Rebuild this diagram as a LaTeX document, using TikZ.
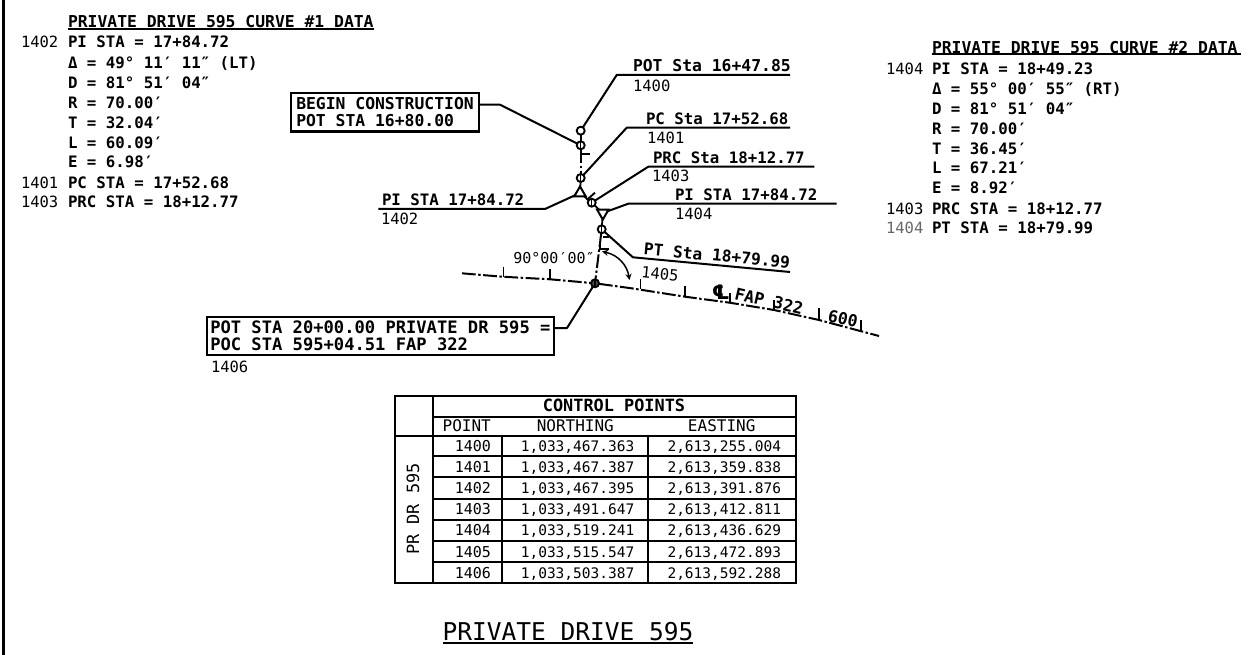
\documentclass[tikz,border=0pt]{standalone}
\usepackage{fontspec}
\setmainfont{DejaVu Sans Mono}
\newfontfamily\clfont{DejaVu Sans}
\usetikzlibrary{shapes.geometric}
\newcommand{\cadsize}[1]{\fontsize{#1pt}{13.6pt}\selectfont}
\tikzset{
  txt/.style={anchor=west, text height=9.2pt, text depth=0pt, font=\cadsize{12.4}},
  txtb/.style={txt, font=\cadsize{12.6}\bfseries},
  cell/.style={anchor=east, text height=8.6pt, text depth=0pt, font=\cadsize{11.6}},
  head/.style={anchor=center, text height=9.2pt, text depth=0pt, font=\cadsize{12.8}},
  callout/.style={draw, line width=1.8pt, anchor=north west, align=left, text depth=0pt, inner xsep=2.6pt, inner ysep=2.4pt},
  leader/.style={line width=1.6pt, line join=round},
  grid/.style={line width=1.3pt},
  pointmark/.style={circle, draw, line width=1.5pt, minimum size=6.4pt},
  pimark/.style={regular polygon, regular polygon sides=3, draw, line width=1.6pt, minimum size=10.5pt},
  centerline/.style={line width=1.6pt, dash pattern=on 11pt off 2pt on 2pt off 2pt},
  tick/.style={line width=1.5pt}
}
\begin{document}
\begin{tikzpicture}[y=0.80pt, x=0.80pt, yscale=-1.000000, xscale=1.000000, inner sep=0pt, outer sep=0pt]
  \useasboundingbox (0,0) rectangle (1258,655);
  % sheet edge
  \draw[line width=2.4pt] (3.5,0) -- (3.5,655);

  % curve 1 data
  \node[txtb, font=\cadsize{13.1}\bfseries] (headone) at (68,22.2) {PRIVATE DRIVE 595 CURVE \#1 DATA};
  \draw[line width=1.6pt] (68,29) -- (374,29);
  \foreach \rowy/\rowid/\rowtext [count=\rowi] in {42.2/1402/PI STA = 17+84.72, 62.5//Δ = 49° 11′ 11″ (LT), 82.5//D = 81° 51′ 04″, 102.5//R = 70.00′, 122.5//T = 32.04′, 142.5//L = 60.09′, 161.5//E = 6.98′, 182.5/1401/PC STA = 17+52.68, 201.5/1403/PRC STA = 18+12.77}
    {
    \node[txtb] (onetext\rowi) at (68,\rowy) {\rowtext};
    \node[txt] (oneid\rowi) at (21,\rowy) {\rowid};
    }

  % curve 2 data
  \node[txtb, font=\cadsize{13.1}\bfseries] (headtwo) at (932,47.8) {PRIVATE DRIVE 595 CURVE \#2 DATA};
  \draw[line width=1.6pt] (932,54.3) -- (1241,54.3);
  \foreach \rowy/\rowid/\rowtext [count=\rowi] in {68.8/1404/PI STA = 18+49.23, 88.8//Δ = 55° 00′ 55″ (RT), 108.5//D = 81° 51′ 04″, 128.5//R = 70.00′, 148.5//T = 36.45′, 168.2//L = 67.21′, 187.5//E = 8.92′, 208.5/1403/PRC STA = 18+12.77}
    {
    \node[txtb] (twotext\rowi) at (932,\rowy) {\rowtext};
    \node[txt] (twoid\rowi) at (886,\rowy) {\rowid};
    }
  \node[txtb] (twotextlast) at (932,227.5) {PT STA = 18+79.99};
  \node[txt, text=black!60] (twoidlast) at (886,227.5) {1404};

  % alignment marks
  \node[pointmark] (pot) at (580.7,130.7) {};
  \node[pointmark] (begin) at (580.7,145.3) {};
  \node[pointmark] (pc) at (580.7,178) {};
  \node[pimark] (pione) at (580,193) {};
  \node[pointmark] (prc) at (591.7,202.7) {};
  \node[pimark, shape border rotate=180] (pitwo) at (602.8,213) {};
  \node[pointmark] (pt) at (601.7,229.3) {};
  \node[pointmark, fill=black!70] (poc) at (595,283.3) {};
  \foreach \markname in {begin,pc,prc,pt,poc}
    \draw[line width=1pt] (\markname.north) -- (\markname.south);

  % alignment
  \draw[centerline] (pot) -- (begin) -- (pc);
  \draw[line width=1.4pt] (pc) -- (pione) -- (prc) -- (pitwo) -- (pt);
  \draw[centerline] (pt) -- (poc);
  \draw[tick] (580.7,154.3) -- (590,154.3);
  \draw[tick] (586.7,200) -- (595,192.7);
  \draw[tick] (603.3,237.3) -- (609.3,237.3);
  \draw[tick] (600,240.7) -- (600,249.3) -- (609.3,249.3);

  % FAP 322 centerline
  \draw[centerline] (462,273.3) -- (502,276.7) -- (550,279.3) -- (poc) -- (631.5,288.3) -- (685,296.7) -- (729.7,302.7) -- (774,310) -- (819,320) -- (879,336);
  \foreach \tickx/\ticka/\tickb in {503.5/266.7/276.7, 550.4/269/279.3, 640.5/279/289.5, 685/286/296.7, 729.7/293/302.7, 774.3/300/310, 819/308/320, 861/320/331.5}
    \draw[tick] (\tickx,\ticka) -- (\tickx,\tickb);
  \node[font=\clfont\bfseries\fontsize{16pt}{16pt}\selectfont] (clsym) at (720.7,292) {℄};
  \node[font=\cadsize{13.2}\bfseries, rotate=-13] (faplabel) at (769,301) {FAP 322};
  \node[font=\cadsize{13.2}\bfseries, rotate=-12] (stalabel) at (843,318.5) {600};

  % right angle
  \draw[line width=1.2pt, <->, >=stealth] (602,251.5) .. controls (618,255) and (627,265) .. (629.5,280);
  \node[font=\cadsize{12}] (anglelabel) at (554,258) {90°00′00″};

  % leaders
  \coordinate (potelbow) at (616.7,75);
  \coordinate (potend) at (790,75);
  \draw[leader] (pot) -- (potelbow) -- (potend);
  \node[txtb, anchor=base west, font=\cadsize{13.1}\bfseries] (potlabel) at (633,72) {POT Sta 16+47.85};
  \node[txt] (potid) at (633,85.7) {1400};

  \coordinate (pcelbow) at (626.7,127.7);
  \coordinate (pcend) at (790,127.7);
  \draw[leader] (pc) -- (pcelbow) -- (pcend);
  \node[txtb, anchor=base west, font=\cadsize{12.6}\bfseries] (pclabel) at (646,125) {PC Sta 17+52.68};
  \node[txt] (pcid) at (647,137.7) {1401};

  \coordinate (prcelbow) at (648.3,166.7);
  \coordinate (prcend) at (814.3,166.7);
  \draw[leader] (prc) -- (prcelbow) -- (prcend);
  \node[txtb, anchor=base west, font=\cadsize{12.6}\bfseries] (prclabel) at (653,164) {PRC Sta 18+12.77};
  \node[txt] (prcid) at (652,176) {1403};

  \coordinate (pitwoelbow) at (628.3,203.7);
  \coordinate (pitwoend) at (836.7,203.7);
  \draw[leader] (pitwo) -- (pitwoelbow) -- (pitwoend);
  \node[txtb, anchor=base west] (pitwolabel) at (675,201) {PI STA 17+84.72};
  \node[txt] (pitwoid) at (675,214) {1404};

  \coordinate (pioneelbow) at (545,209);
  \coordinate (pioneend) at (378.3,209);
  \draw[leader] (pione) -- (pioneelbow) -- (pioneend);
  \node[txtb, anchor=base west] (pionelabel) at (382,206) {PI STA 17+84.72};
  \node[txt] (pioneid) at (381,219) {1402};

  \coordinate (ptelbow) at (632.9,257.3);
  \coordinate (ptend) at (790,272);
  \draw[leader] (pt) -- (ptelbow) -- (ptend);
  \node[font=\cadsize{13}\bfseries, text height=9.5pt, text depth=0pt, rotate=-5.5] (ptlabel) at (717,255.5) {PT Sta 18+79.99};
  \node[font=\cadsize{12.4}, text height=9.2pt, text depth=0pt, rotate=-6] (ptid) at (660,274) {1405};

  % callout boxes
  \node[callout, font=\cadsize{13.1}\bfseries, minimum width=150.4pt, minimum height=30.6pt] (beginbox) at (291,93.3) {BEGIN CONSTRUCTION\\POT STA 16+80.00};
  \coordinate (beginelbow) at (500,104.7);
  \draw[leader] (beginbox.east |- beginelbow) -- (beginelbow) -- (begin);

  \node[callout, font=\cadsize{13.7}\bfseries, minimum width=272pt, minimum height=30.4pt] (pocbox) at (207,317) {POT STA 20+00.00 PRIVATE DR 595 =\\POC STA 595+04.51 FAP 322};
  \coordinate (pocelbow) at (567,328);
  \draw[leader] (pocbox.east |- pocelbow) -- (pocelbow) -- (poc);
  \node[txt] (pocid) at (211,366.7) {1406};

  % control points table
  \draw[grid] (395.3,396) rectangle (795.7,583.3);
  \draw[grid] (432.7,396) -- (432.7,583.3);
  \draw[grid] (432.7,416.7) -- (795.7,416.7);
  \draw[grid] (395.3,436) -- (795.7,436);
  \draw[grid] (501.7,436) -- (501.7,583.3);
  \draw[grid] (648.3,436) -- (648.3,583.3);
  \foreach \liney in {456,477.3,498.7,519.7,541,562.3}
    \draw[grid] (432.7,\liney) -- (795.7,\liney);
  \node[head, font=\cadsize{13.5}\bfseries] (ctrlhead) at (614,406) {CONTROL POINTS};
  \node[head] (pointhead) at (466.7,426) {POINT};
  \node[head] (northhead) at (575.3,426) {NORTHING};
  \node[head] (easthead) at (721.7,426) {EASTING};
  \node[head, font=\cadsize{13.5}, rotate=90] (drivelabel) at (413.3,509) {PR DR 595};
  \foreach \rowy/\rowid/\rownorth/\roweast in {446/1400/{1,033,467.363}/{2,613,255.004}, 466.7/1401/{1,033,467.387}/{2,613,359.838}, 488/1402/{1,033,467.395}/{2,613,391.876}, 509/1403/{1,033,491.647}/{2,613,412.811}, 530.3/1404/{1,033,519.241}/{2,613,436.629}, 551.7/1405/{1,033,515.547}/{2,613,472.893}, 573/1406/{1,033,503.387}/{2,613,592.288}}
    {
    \node[cell, font=\cadsize{12}] (id\rowid) at (491,\rowy) {\rowid};
    \node[cell] (north\rowid) at (634.3,\rowy) {\rownorth};
    \node[cell] (east\rowid) at (781,\rowy) {\roweast};
    }

  % title
  \node[anchor=center, text height=14.3pt, text depth=0pt, font=\fontsize{19.6pt}{20pt}\selectfont] (title) at (568,632) {PRIVATE DRIVE 595};
  \draw[line width=1.6pt] (443,642.7) -- (692.7,642.7);
\end{tikzpicture}
\end{document}
